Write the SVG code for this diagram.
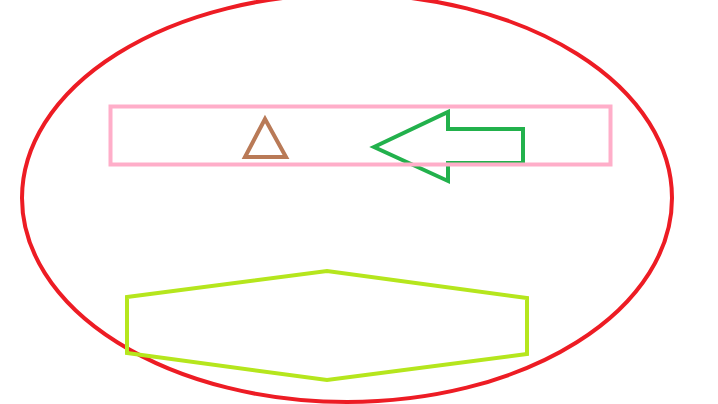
<svg xmlns="http://www.w3.org/2000/svg" width="718" height="404" viewBox="0 0 718 404">
<style>
.s{fill:none;stroke-width:4;stroke-linejoin:miter}
</style>
<rect width="718" height="404" fill="#ffffff"/>
<g id="ellipse"><ellipse class="s" cx="347" cy="198" rx="325" ry="204" stroke="#ed1c24"/></g>
<g id="hexagon"><polygon class="s" points="127,297 327,271 527,298 527,354 327,380 127,353" stroke="#b5e61d"/></g>
<g id="arrow"><polygon class="s" points="374,147 448,112 448,129 523,129 523,163 448,163 448,181" stroke="#22b14c"/></g>
<g id="bar"><rect class="s" x="110.5" y="106.5" width="500" height="58" stroke="#ffaec9"/></g>
<g id="triangle"><polygon class="s" points="265,119 245,157 286,157" stroke="#b97a57"/></g>
</svg>
